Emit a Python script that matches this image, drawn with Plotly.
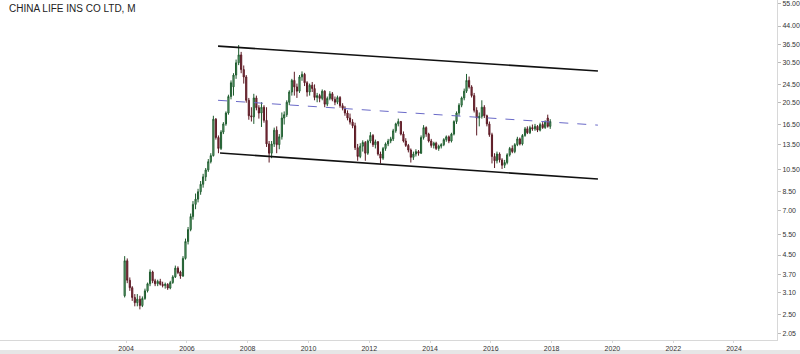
import math
import pandas as pd
import plotly.graph_objects as go

# ---- data (monthly candles, Dec 2003 .. Dec 2017) ----
start_month = "2003-12-15"
opens = [3.00,4.25,3.50,3.25,2.95,2.80,2.90,2.72,2.92,3.15,3.38,3.80,3.48,3.38,3.46,3.36,3.32,3.36,3.24,3.42,
         3.62,3.95,3.80,3.65,4.35,5.15,5.80,6.60,7.45,7.85,8.45,9.10,9.80,10.50,11.40,12.10,17.40,14.50,13.00,15.30,
         16.60,18.50,21.80,24.00,27.00,30.50,33.00,28.50,26.50,21.00,18.00,17.80,21.50,19.50,18.50,19.60,17.20,13.60,12.40,13.60,
         15.60,13.50,14.60,17.60,18.20,20.60,22.80,25.60,24.00,23.00,26.50,27.20,25.00,22.80,24.40,23.60,21.60,22.00,21.40,23.00,
         20.20,21.40,22.40,21.20,20.60,21.60,19.90,19.40,18.50,17.60,16.90,16.30,13.10,12.00,13.30,13.80,12.40,14.00,14.80,13.50,
         13.90,12.30,11.80,13.00,13.60,14.00,14.30,15.50,16.60,17.00,15.00,14.00,13.40,12.80,11.90,12.30,12.60,12.40,14.50,16.00,
         15.00,14.00,13.40,13.70,13.00,13.30,13.50,14.20,14.60,14.00,15.00,17.00,18.50,20.00,21.50,23.00,25.60,24.00,22.00,19.00,
         17.60,17.90,19.60,18.00,16.60,14.90,12.00,11.50,12.30,11.60,11.00,11.30,12.20,13.00,12.60,13.50,14.30,13.60,14.80,15.80,
         15.20,16.00,15.80,16.20,15.60,16.50,16.00,17.60,16.20]
highs = [4.45,4.35,3.60,3.30,3.05,3.05,3.00,2.98,3.22,3.42,3.90,3.85,3.55,3.52,3.55,3.45,3.42,3.40,3.48,3.68,
         4.05,4.02,3.85,4.45,5.30,5.95,6.80,7.70,8.30,8.70,9.40,10.10,10.70,11.70,12.40,18.00,17.60,14.80,15.60,16.90,
         18.80,22.20,25.60,27.50,31.50,36.40,34.00,29.70,27.00,21.50,19.60,22.40,22.00,20.00,20.60,20.00,19.60,14.00,14.00,16.00,
         16.20,15.00,18.60,18.80,21.00,23.20,26.00,27.90,24.80,27.00,28.00,27.60,25.40,24.80,25.20,24.60,22.60,22.40,23.40,23.20,
         21.80,23.00,22.80,21.80,22.00,21.90,20.40,19.80,19.00,18.40,17.40,16.80,13.60,13.70,14.10,14.00,14.20,15.30,15.00,14.20,
         14.00,12.60,13.20,13.80,14.30,14.60,15.80,16.80,17.50,17.10,15.40,14.40,13.60,13.00,12.60,12.90,12.80,14.80,16.40,16.20,
         15.20,14.30,13.90,13.90,13.50,13.70,14.40,14.80,14.80,15.20,17.20,18.80,20.40,21.80,23.60,27.30,26.60,24.40,22.60,19.60,
         18.60,21.00,20.00,18.20,17.00,15.20,12.40,12.60,12.50,11.80,11.60,12.40,13.20,13.40,13.70,14.60,14.50,15.00,16.10,16.20,
         16.30,16.50,16.60,16.40,16.80,16.90,17.20,18.20,17.40]
lows = [2.95,3.40,3.15,2.85,2.70,2.70,2.62,2.68,2.88,3.10,3.30,3.40,3.30,3.30,3.32,3.26,3.22,3.18,3.20,3.38,
        3.58,3.72,3.55,3.62,4.30,5.00,5.70,6.40,7.10,7.60,8.20,8.80,9.40,10.30,11.20,12.00,14.20,12.40,12.80,15.00,
        16.30,18.20,21.20,22.00,26.00,29.80,27.50,24.80,20.50,17.30,17.00,16.60,19.00,17.50,16.10,16.80,13.20,11.30,11.80,13.20,
        12.40,12.90,14.20,16.50,17.80,20.00,22.00,22.00,21.50,22.60,25.50,24.20,21.80,22.00,22.80,21.00,20.60,20.60,21.00,19.60,
        19.80,21.00,20.80,20.00,20.20,19.50,19.00,18.00,17.20,16.50,15.90,12.80,11.50,11.80,12.60,11.50,12.20,13.70,13.20,13.00,
        12.10,11.20,11.60,12.70,13.30,13.70,14.00,15.20,16.20,14.80,13.80,13.20,12.50,11.30,11.60,12.00,12.10,12.30,14.20,14.60,
        13.80,13.10,13.00,12.80,12.70,13.00,13.30,13.90,13.70,13.80,14.80,16.60,18.00,19.60,21.00,22.60,23.60,21.60,18.60,14.80,
        16.20,17.50,17.60,16.20,14.60,11.20,10.70,11.20,11.30,10.60,10.70,11.10,12.00,12.40,12.40,13.30,13.40,13.40,14.60,15.00,
        15.00,15.50,15.50,15.30,15.40,15.80,15.80,16.00,15.80]
closes = [4.25,3.50,3.25,2.95,2.80,2.90,2.72,2.92,3.15,3.38,3.80,3.48,3.38,3.46,3.36,3.32,3.36,3.24,3.42,3.62,
          3.95,3.78,3.65,4.35,5.15,5.80,6.60,7.45,7.85,8.45,9.10,9.80,10.50,11.40,12.10,17.40,14.50,13.00,15.30,16.60,
          18.50,21.80,25.00,27.00,30.50,33.00,28.50,26.50,21.00,18.00,17.80,21.50,19.50,18.50,19.60,17.20,13.60,12.40,13.60,15.60,
          13.50,14.60,17.60,18.20,20.60,22.80,25.60,24.00,23.00,26.50,27.20,25.00,22.80,24.40,23.60,21.60,22.00,21.40,23.00,20.20,
          21.40,22.40,21.20,20.60,21.60,19.90,19.40,18.50,17.60,16.90,16.30,13.10,12.00,13.30,13.80,12.40,14.00,14.80,13.50,13.90,
          12.30,11.80,13.00,13.60,14.00,14.30,15.50,16.60,17.00,15.00,14.00,13.40,12.80,11.90,12.30,12.60,12.40,14.50,16.00,15.00,
          14.00,13.40,13.70,13.00,13.30,13.50,14.20,14.60,14.00,15.00,17.00,18.50,20.00,21.50,23.00,25.60,24.00,22.00,19.00,17.60,
          17.90,19.60,18.00,16.60,14.90,12.00,11.50,12.30,11.60,11.00,11.30,12.20,13.00,12.60,13.50,14.30,13.60,14.80,15.80,15.20,
          16.00,15.80,16.20,15.60,16.50,16.00,16.90,16.20,17.00]

# trend channel drawn on the chart
upper_line_x = ["2007-01-10", "2019-07-11"]
upper_line_y = [36.0, 28.1]
lower_line_x = ["2007-02-03", "2019-07-11"]
lower_line_y = [12.42, 9.59]
mid_line_x = ["2007-01-10", "2019-07-11"]
mid_line_y = [21.0, 16.4]

y_ticks = [2.05, 2.50, 3.10, 3.70, 4.50, 5.50, 7.00, 8.50, 10.50, 13.50, 16.50, 20.50, 24.50, 30.50, 36.50, 44.00, 55.00]
x_tick_years = [2004, 2006, 2008, 2010, 2012, 2014, 2016, 2018, 2020, 2022, 2024]

dates = pd.date_range(start=start_month, periods=len(closes), freq="MS") + pd.Timedelta(days=14)
dates = pd.date_range("2003-12-01", periods=len(closes), freq="MS") + pd.Timedelta(days=14)

fig = go.Figure()
fig.add_trace(go.Candlestick(
    x=dates, open=opens, high=highs, low=lows, close=closes,
    increasing=dict(line=dict(color="#1e5c2e", width=1), fillcolor="#84c294"),
    decreasing=dict(line=dict(color="#5c1a24", width=1), fillcolor="#8c3a48"),
    whiskerwidth=0, showlegend=False, hoverinfo="skip"))

fig.add_trace(go.Scatter(x=upper_line_x, y=upper_line_y, mode="lines",
                         line=dict(color="#111111", width=1.6), showlegend=False, hoverinfo="skip"))
fig.add_trace(go.Scatter(x=lower_line_x, y=lower_line_y, mode="lines",
                         line=dict(color="#111111", width=1.6), showlegend=False, hoverinfo="skip"))
fig.add_trace(go.Scatter(x=mid_line_x, y=mid_line_y, mode="lines",
                         line=dict(color="#6a6ac8", width=1, dash="dash"), showlegend=False, hoverinfo="skip"))

fig.update_layout(
    width=800, height=354,
    margin=dict(l=0, r=23, t=0, b=14),
    paper_bgcolor="white", plot_bgcolor="white",
    font=dict(family="Liberation Sans, Arial, sans-serif", size=7, color="#333333"),
    xaxis=dict(type="date", range=["1999-11-08", "2025-06-01"],
               tickvals=[f"{y}-01-01" for y in x_tick_years], ticktext=[str(y) for y in x_tick_years],
               showgrid=False, zeroline=False, showline=True, linecolor="#d8d8d8", linewidth=1,
               ticks="outside", ticklen=2, tickcolor="#d8d8d8",
               tickfont=dict(size=7, color="#333333"),
               rangeslider=dict(visible=False), automargin=False),
    yaxis=dict(type="log", side="right",
               range=[math.log10(1.931), math.log10(57.0)],
               tickvals=y_ticks, ticktext=[f"{v:.2f}" for v in y_ticks],
               showgrid=False, zeroline=False, showline=True, linecolor="#d8d8d8", linewidth=1,
               ticks="outside", ticklen=3, tickcolor="#bbbbbb",
               tickfont=dict(size=7, color="#333333"), automargin=False),
    shapes=[dict(type="rect", xref="paper", yref="paper", x0=-0.01, x1=1.05, y0=-0.0412, y1=-0.0294,
                 fillcolor="#e6e6e6", line=dict(width=0), layer="below")],
    annotations=[dict(text="CHINA LIFE INS CO LTD, M", xref="paper", yref="paper",
                      x=0.009, y=1.0, xanchor="left", yanchor="top", showarrow=False,
                      font=dict(family="Liberation Sans, Arial, sans-serif", size=10, color="#222222"),
                      yshift=-1)],
)

fig.write_html("out.html")
